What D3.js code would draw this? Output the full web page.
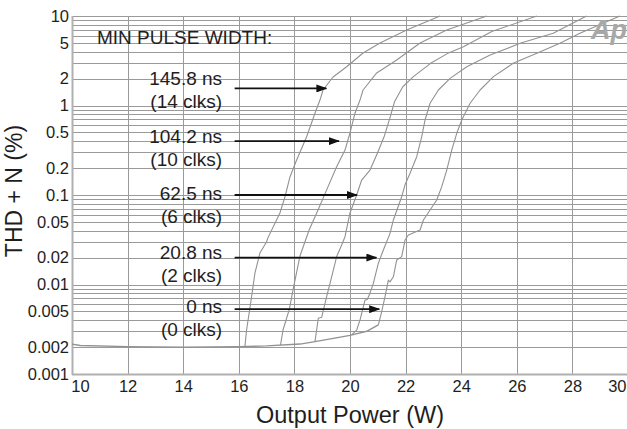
<!DOCTYPE html>
<html>
<head>
<meta charset="utf-8">
<script src="https://cdn.jsdelivr.net/npm/d3@7"></script>
<style>
  html, body { margin: 0; padding: 0; background: #fff; overflow: hidden; }
  text { font-family: "Liberation Sans", Arial, sans-serif; }
</style>
</head>
<body>
<svg id="chart" width="627" height="429"></svg>
<script>
// Axis ticks
const powerTicks = [10, 12, 14, 16, 18, 20, 22, 24, 26, 28, 30];
const thdTicks = [10, 5, 2, 1, 0.5, 0.2, 0.1, 0.05, 0.02, 0.01, 0.005, 0.002, 0.001];
const thdTickLabels = ["10", "5", "2", "1", "0.5", "0.2", "0.1", "0.05", "0.02", "0.01", "0.005", "0.002", "0.001"];

// Common low-distortion floor shared by every setting (W, %)
const floorPower = [10.0, 10.3, 12.0, 14.0, 16.0, 17.0, 18.2, 18.74, 19.4, 20.0, 20.6, 21.02];
const floorThd   = [0.00216, 0.00208, 0.00202, 0.00199, 0.00202, 0.00206, 0.00216, 0.0023, 0.0025, 0.0027, 0.0030, 0.00353];

// Clipping rise for each minimum pulse width (W, %)
const clk14Power = [16.22, 16.28, 16.46, 16.58, 16.76, 17.0, 17.05, 17.48, 17.66, 17.84, 18.08, 18.44, 18.74, 18.92, 19.03, 19.39, 19.88, 20.47, 21.08, 22.04, 23.24];
const clk14Thd   = [0.00202, 0.0031, 0.0073, 0.0134, 0.0225, 0.030, 0.0334, 0.063, 0.095, 0.159, 0.246, 0.448, 0.82, 1.15, 1.49, 2.08, 2.71, 3.86, 4.99, 6.98, 10];

const clk10Power = [17.5, 17.59, 17.82, 17.95, 18.2, 18.53, 18.85, 19.16, 19.52, 19.82, 20.0, 20.18, 20.36, 20.47, 20.96, 21.68, 22.52, 23.48, 24.92];
const clk10Thd   = [0.0021, 0.0031, 0.0053, 0.0087, 0.0208, 0.0406, 0.068, 0.114, 0.207, 0.318, 0.493, 0.82, 1.15, 1.49, 2.31, 3.22, 4.99, 6.98, 10];

const clk6Power = [18.74, 18.86, 18.98, 19.16, 19.34, 19.52, 19.7, 19.82, 20.0, 20.24, 20.42, 20.72, 21.0, 21.24, 21.45, 21.6, 21.9, 22.28, 22.9, 23.5, 24.08, 25.1, 26.72];
const clk6Thd   = [0.0023, 0.0042, 0.0043, 0.0073, 0.0122, 0.0205, 0.0276, 0.0342, 0.063, 0.10, 0.147, 0.19, 0.30, 0.46, 0.75, 1.10, 1.62, 2.10, 2.96, 3.80, 4.54, 6.7, 10];

const clk2Power = [20.06, 20.24, 20.36, 20.48, 20.54, 20.62, 20.72, 20.84, 21.02, 21.2, 21.44, 21.56, 21.86, 21.98, 22.16, 22.4, 22.58, 22.7, 22.88, 23.18, 23.6, 24.2, 25.04, 26.12, 27.31, 28.51];
const clk2Thd   = [0.00273, 0.0031, 0.0040, 0.00565, 0.0067, 0.0068, 0.0080, 0.0103, 0.0173, 0.0243, 0.0373, 0.0526, 0.0957, 0.130, 0.175, 0.268, 0.448, 0.689, 1.06, 1.49, 2.01, 2.71, 3.66, 4.95, 6.41, 10];

const clk0Power = [21.02, 21.14, 21.26, 21.38, 21.44, 21.56, 21.68, 21.86, 21.98, 22.1, 22.52, 22.64, 23.12, 23.3, 23.48, 23.66, 23.84, 24.02, 24.32, 24.68, 25.16, 25.87, 26.72, 27.55, 28.27, 29.71];
const clk0Thd   = [0.00353, 0.00497, 0.0073, 0.0112, 0.0107, 0.0122, 0.0188, 0.0205, 0.0314, 0.0357, 0.0406, 0.0526, 0.088, 0.124, 0.19, 0.318, 0.489, 0.689, 1.06, 1.49, 2.1, 2.96, 3.83, 4.95, 6.41, 10];

// Annotation text and the level each arrow sits at
const pulseLabels = ["145.8 ns", "104.2 ns", "62.5 ns", "20.8 ns", "0 ns"];
const clkLabels   = ["(14 clks)", "(10 clks)", "(6 clks)", "(2 clks)", "(0 clks)"];
const labelThd    = [2.0, 0.456, 0.1045, 0.0229, 0.00565];
const arrowThd    = [1.55, 0.4, 0.1, 0.02, 0.0053];
const arrowTipPower = [19.15, 19.6, 20.25, 20.95, 21.05];

const svg = d3.select("#chart");
const W = +svg.attr("width");
const x = d3.scaleLinear().domain([10, 30]).range([72, 628]);
const y = d3.scaleLog().domain([0.001, 10]).range([374, 16]);

const gridColor = "#9a9a9a";
const curveColor = "#929292";
const inkColor = "#1e1e1e";

// Grid
const grid = svg.append("g").attr("class", "grid");
grid.selectAll("line.h").data(y.ticks()).join("line")
  .attr("class", "h")
  .attr("x1", x(10)).attr("x2", x(30))
  .attr("y1", d => Math.round(y(d)) + 0.5).attr("y2", d => Math.round(y(d)) + 0.5)
  .attr("stroke", gridColor).attr("stroke-width", 1);
grid.selectAll("line.v").data(powerTicks).join("line")
  .attr("class", "v")
  .attr("x1", d => Math.round(x(d)) + 0.5).attr("x2", d => Math.round(x(d)) + 0.5)
  .attr("y1", y(10)).attr("y2", y(0.001))
  .attr("stroke", gridColor).attr("stroke-width", 1);
// Left and bottom frame
svg.append("line").attr("x1", x(10) + 0.5).attr("x2", x(10) + 0.5).attr("y1", y(10)).attr("y2", y(0.001) + 1)
  .attr("stroke", "#b0b0b0").attr("stroke-width", 2);
svg.append("line").attr("x1", x(10)).attr("x2", x(30)).attr("y1", y(0.001) + 0.5).attr("y2", y(0.001) + 0.5)
  .attr("stroke", "#b0b0b0").attr("stroke-width", 2);

// Axes
const yAxis = d3.axisLeft(y).tickValues(thdTicks)
  .tickFormat((d, i) => thdTickLabels[i]).tickSize(0).tickPadding(3);
const gy = svg.append("g").attr("transform", `translate(${x(10)},0)`).call(yAxis);
gy.select(".domain").remove();
gy.selectAll("text").attr("font-size", 16.5).attr("fill", inkColor)
  .style("font-family", "'Liberation Sans', Arial, sans-serif");

const xAxis = d3.axisBottom(x).tickValues(powerTicks).tickFormat(d3.format("d")).tickSize(0).tickPadding(6);
const gx = svg.append("g").attr("transform", `translate(0,${y(0.001)})`).call(xAxis);
gx.select(".domain").remove();
gx.selectAll("text").attr("font-size", 16.5).attr("fill", inkColor)
  .style("font-family", "'Liberation Sans', Arial, sans-serif")
  .attr("dx", d => d === 10 ? 8 : 0);
// the last tick sits on the window edge: keep its label inside
gx.selectAll(".tick").filter(d => d === 30).select("text")
  .attr("text-anchor", "end").attr("x", W - 1 - x(30));

// Axis titles
svg.append("text").attr("x", 350).attr("y", 415).attr("text-anchor", "middle")
  .attr("dominant-baseline", "central").attr("font-size", 23.5).attr("fill", inkColor)
  .text("Output Power (W)");
svg.append("text").attr("transform", "translate(14,191) rotate(-90)").attr("text-anchor", "middle")
  .attr("dominant-baseline", "central").attr("font-size", 23).attr("fill", inkColor)
  .text("THD + N (%)");

// Curves
const line = d3.line().x(d => x(d[0])).y(d => y(d[1])).curve(d3.curveLinear);
const series = [
  [floorPower, floorThd],
  [clk14Power, clk14Thd],
  [clk10Power, clk10Thd],
  [clk6Power, clk6Thd],
  [clk2Power, clk2Thd],
  [clk0Power, clk0Thd]
].map(([p, t]) => p.map((v, i) => [v, t[i]]));
svg.append("g").selectAll("path").data(series).join("path")
  .attr("d", line).attr("fill", "none")
  .attr("stroke", curveColor).attr("stroke-width", (d, i) => i === 0 ? 1.4 : 1.1)
  .attr("stroke-linejoin", "round");

// Title inside plot
svg.append("text").attr("x", 97).attr("y", 37).attr("dominant-baseline", "central")
  .attr("font-size", 19).attr("fill", inkColor).text("MIN PULSE WIDTH:");

// Arrow marker
svg.append("defs").append("marker")
  .attr("id", "arrowhead").attr("markerUnits", "userSpaceOnUse")
  .attr("markerWidth", 11).attr("markerHeight", 8).attr("refX", 10).attr("refY", 4)
  .attr("orient", "auto")
  .append("path").attr("d", "M0,0 L11,4 L0,8 Z").attr("fill", "#111");

const notes = svg.append("g");
pulseLabels.forEach((lab, i) => {
  const ly = y(labelThd[i]);
  notes.append("text").attr("x", x(15.4)).attr("y", ly).attr("text-anchor", "end")
    .attr("dominant-baseline", "central").attr("font-size", 19).attr("fill", inkColor).text(lab);
  notes.append("text").attr("x", x(15.4)).attr("y", ly + 23.3).attr("text-anchor", "end")
    .attr("dominant-baseline", "central").attr("font-size", 19).attr("fill", inkColor).text(clkLabels[i]);
  notes.append("line")
    .attr("x1", x(15.85)).attr("x2", x(arrowTipPower[i]))
    .attr("y1", y(arrowThd[i])).attr("y2", y(arrowThd[i]))
    .attr("stroke", "#111").attr("stroke-width", 1.8)
    .attr("marker-end", "url(#arrowhead)");
});

// Analyzer logo
svg.append("text").attr("x", 591).attr("y", 39).attr("font-size", 27)
  .attr("font-weight", "bold").attr("font-style", "italic").attr("fill", "#a8a8a8")
  .text("Ap");
</script>
</body>
</html>
